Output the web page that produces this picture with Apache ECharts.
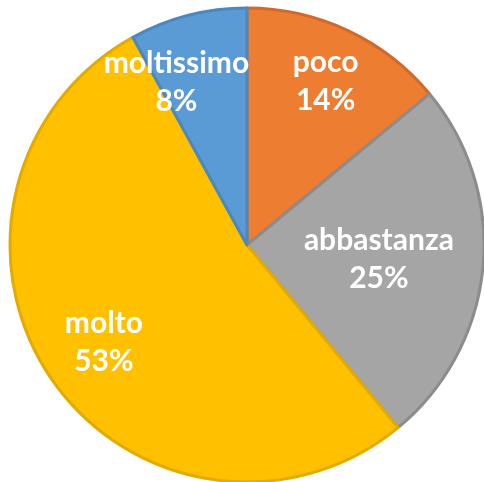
<!DOCTYPE html>
<html>
<head>
<meta charset="utf-8">
<script src="https://cdn.jsdelivr.net/npm/echarts@6/dist/echarts.min.js"></script>
<style>
  html, body { margin: 0; padding: 0; background: #fff; }
  #chart { width: 484px; height: 482px; }
</style>
</head>
<body>
<div id="chart"></div>
<script>
const categories = ['poco', 'abbastanza', 'molto', 'moltissimo']
const values = [14, 25, 53, 8]

const colors = ['#ED7D31', '#A5A5A5', '#FFC000', '#5B9BD5']
const borders = ['#D2692A', '#8C8C8C', '#E3AA00', '#4C88C0']
// label placement: fraction of radius, angle shift (deg)
const labelPlace = [[0.765, 0.5], [0.56, 1], [0.73, 0], [0.75, -9]]

const cx = 247, cy = 245, R = 237

const chart = echarts.init(document.getElementById('chart'))
chart.setOption({
  animation: false,
  series: [{
    type: 'pie',
    center: [cx, cy],
    radius: R,
    startAngle: 90,
    clockwise: true,
    data: categories.map((name, i) => ({
      name,
      value: values[i],
      itemStyle: { color: colors[i], borderColor: borders[i], borderWidth: 3 }
    })),
    label: {
      position: 'inside',
      formatter: '{b}\n{d}%',
      color: '#fff',
      fontFamily: 'Lato',
      fontWeight: 'bold',
      fontSize: 30,
      lineHeight: 38
    },
    labelLine: { show: false },
    emphasis: { disabled: true },
    labelLayout(params) {
      const r = params.labelRect
      const lx = r.x + r.width / 2, ly = r.y + r.height / 2
      const [f, shift] = labelPlace[params.dataIndex]
      const a = Math.atan2(ly - cy, lx - cx) + shift * Math.PI / 180
      return { dx: cx + Math.cos(a) * R * f - lx, dy: cy + Math.sin(a) * R * f - ly }
    }
  }]
})
</script>
</body>
</html>
